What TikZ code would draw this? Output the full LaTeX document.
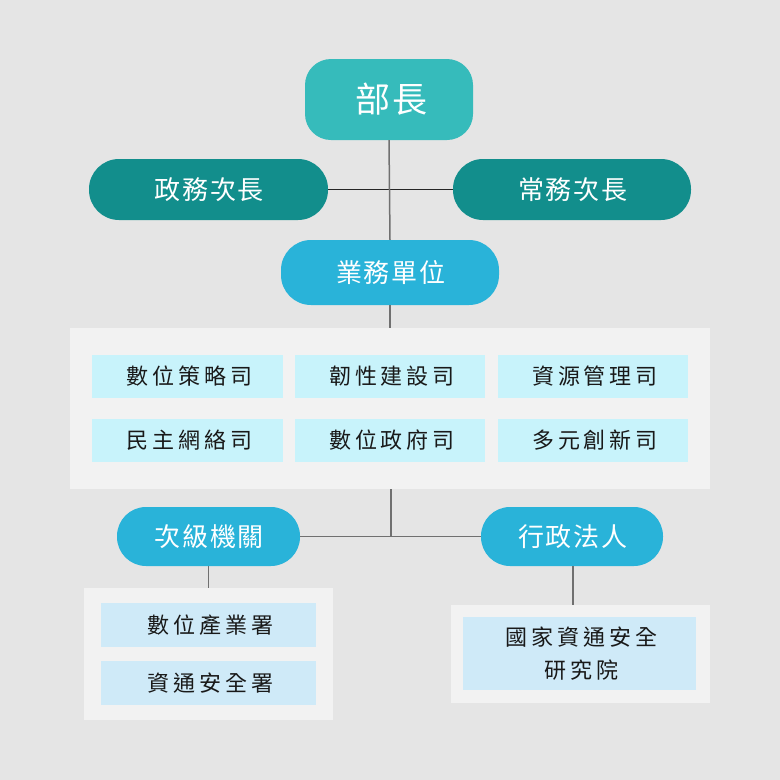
\documentclass[tikz,border=0pt]{standalone}
\usepackage{fontspec}
\newfontfamily\cjkwide[LetterSpace=18]{Noto Sans CJK TC}
\newfontfamily\cjkmid[LetterSpace=6]{Noto Sans CJK TC}
\newfontfamily\cjktop[LetterSpace=8]{Noto Sans CJK TC}
\definecolor{bg}{HTML}{E5E5E5}
\definecolor{teallight}{HTML}{36BBBB}
\definecolor{tealdark}{HTML}{128E8C}
\definecolor{skyblue}{HTML}{29B3D9}
\definecolor{panel}{HTML}{F2F2F2}
\definecolor{cyanbox}{HTML}{C8F3FB}
\definecolor{bluebox}{HTML}{CFEAF8}
\definecolor{linegray}{HTML}{707070}
\tikzset{
  pill/.style={draw=none, text=white, rounded corners=29pt, inner sep=0pt, font=\cjkmid\fontsize{26}{30}\selectfont, execute at end node={\kern-0.06em}},
  panelbox/.style={fill=panel, draw=none, inner sep=0pt},
  unitbox/.style={fill=cyanbox, draw=none, inner sep=0pt, minimum width=191pt, minimum height=43pt, text=black!90, font=\cjkwide\fontsize{22}{26}\selectfont, execute at end node={\kern-0.18em}},
  subbox/.style={fill=bluebox, draw=none, inner sep=0pt, text=black!90, font=\cjkwide\fontsize{22}{33}\selectfont, align=center},
  conn/.style={draw=linegray, line width=1.5pt},
  connd/.style={draw=black!85, line width=1.2pt}
}
\begin{document}
\begin{tikzpicture}[x=1pt,y=-1pt]
\fill[bg] (0,0) rectangle (780,780);
\useasboundingbox (0,0) rectangle (780,780);
% top
\node[pill, fill=teallight, rounded corners=26pt, minimum width=168pt, minimum height=81pt, font=\cjktop\fontsize{35}{40}\selectfont, execute at end node={\kern-0.08em}] (bz) at (389,99.5) {部長};
\node[pill, fill=tealdark, minimum width=239pt, minimum height=61pt, rounded corners=30pt] (zw) at (208.5,189.5) {政務次長};
\node[pill, fill=tealdark, minimum width=238pt, minimum height=61pt, rounded corners=30pt] (cw) at (572,189.5) {常務次長};
\node[pill, fill=skyblue, minimum width=218pt, minimum height=65pt, rounded corners=30pt] (yw) at (390,272.5) {業務單位};
% big panel
\node[panelbox, minimum width=640pt, minimum height=161pt] (big) at (390,408.5) {};
\node[unitbox] (u1) at (187.5,376.5) {數位策略司};
\node[unitbox, minimum width=190pt] (u2) at (390,376.5) {韌性建設司};
\node[unitbox, minimum width=190pt] (u3) at (593,376.5) {資源管理司};
\node[unitbox] (u4) at (187.5,440.5) {民主網絡司};
\node[unitbox, minimum width=190pt] (u5) at (390,440.5) {數位政府司};
\node[unitbox, minimum width=190pt] (u6) at (593,440.5) {多元創新司};
% second level
\node[pill, fill=skyblue, minimum width=183pt, minimum height=59pt] (cj) at (208.5,536.5) {次級機關};
\node[pill, fill=skyblue, minimum width=182pt, minimum height=59pt] (xz) at (572,536.5) {行政法人};
\node[panelbox, minimum width=249pt, minimum height=132pt] (lp) at (208.5,654) {};
\node[subbox, minimum width=215pt, minimum height=44pt] (s1) at (208.5,625) {數位產業署\kern-0.18em};
\node[subbox, minimum width=215pt, minimum height=44pt] (s2) at (208.5,683) {資通安全署\kern-0.18em};
\node[panelbox, minimum width=259pt, minimum height=98pt] (rp) at (580.5,654) {};
\node[subbox, minimum width=233pt, minimum height=73pt] (s3) at (579.5,653.5) {國家資通安全\kern-0.18em\\研究院\kern-0.18em};
\coordinate (jn) at (391,537);
% connectors
\draw[connd] (zw.east) -- (cw.west);
\draw[conn] (bz.south) -- (yw.north);
\draw[conn] (yw.south) -- (big.north);
\draw[conn] (big.south -| jn) -- (jn);
\draw[conn] (cj.east) -- (xz.west);
\draw[conn] (cj.south) -- (lp.north);
\draw[conn] ([xshift=1pt]xz.south) -- ([xshift=1pt]xz.south |- rp.north);
\end{tikzpicture}
\end{document}
